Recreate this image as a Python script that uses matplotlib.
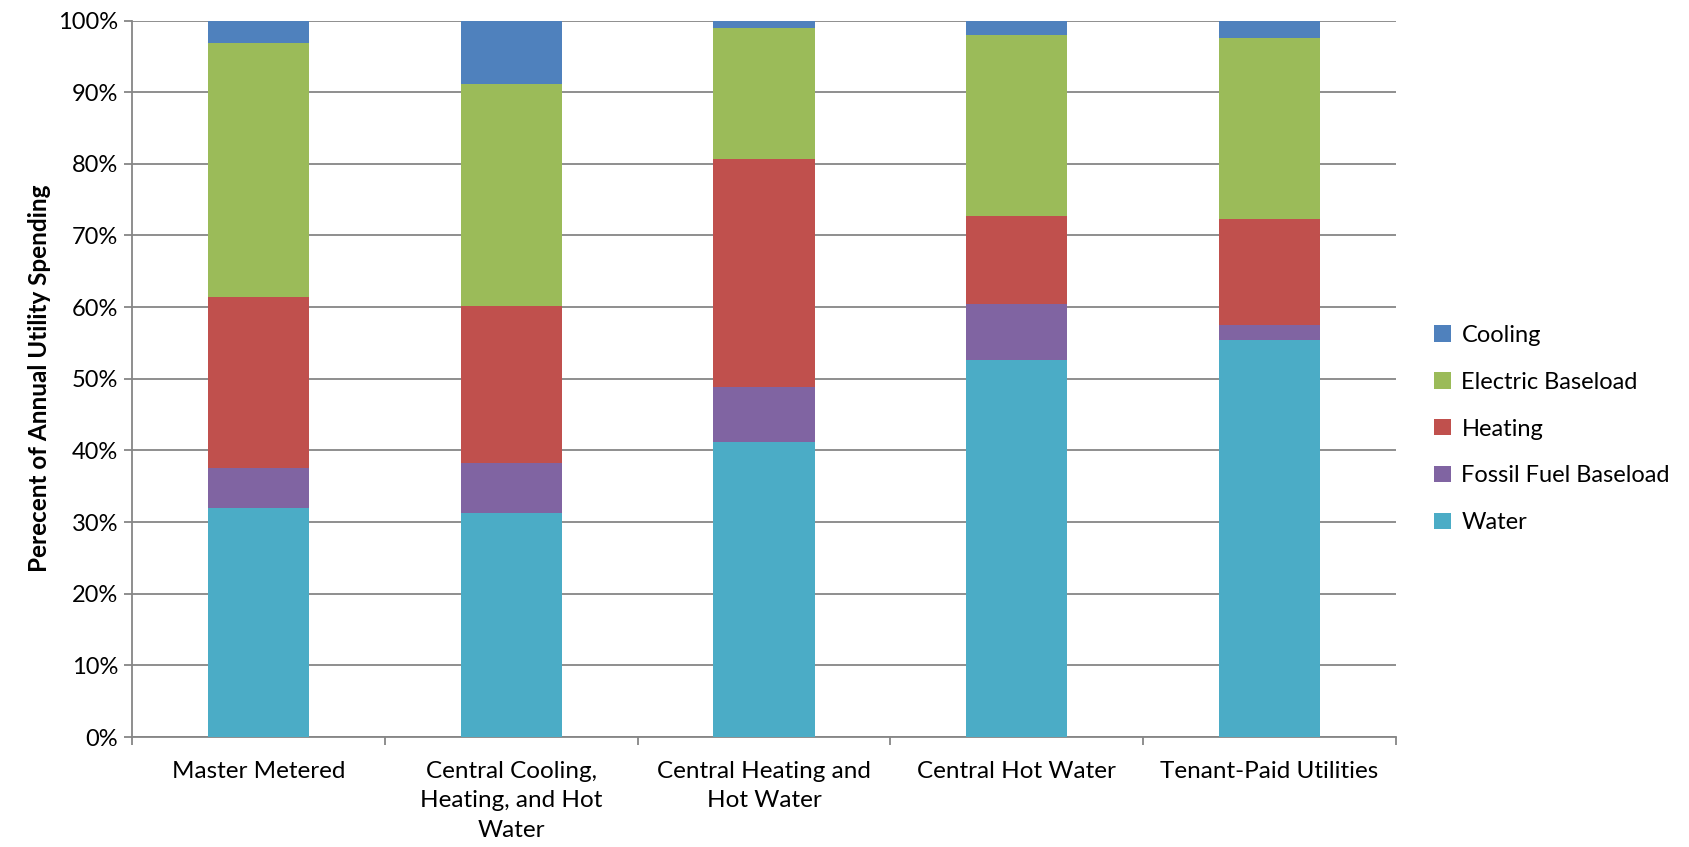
import numpy as np
import matplotlib.pyplot as plt
from matplotlib.ticker import FuncFormatter

categories = ["Master Metered", "Central Cooling,\nHeating, and Hot\nWater",
              "Central Heating and\nHot Water", "Central Hot Water",
              "Tenant-Paid Utilities"]

# shares of annual utility spending (%), bottom to top
water = [31.9, 31.3, 41.2, 52.6, 55.4]
fossil_fuel = [5.6, 6.9, 7.7, 7.9, 2.1]
heating = [23.9, 21.9, 31.8, 12.2, 14.8]
electric = [35.4, 31.0, 18.3, 25.3, 25.2]
cooling = [3.2, 8.9, 1.0, 2.0, 2.5]

series = [("Water", water, "#4BACC6"),
          ("Fossil Fuel Baseload", fossil_fuel, "#8064A2"),
          ("Heating", heating, "#C0504D"),
          ("Electric Baseload", electric, "#9BBB59"),
          ("Cooling", cooling, "#4F81BD")]

plt.rcParams['font.family'] = ['Lato', 'DejaVu Sans']

fig = plt.figure(figsize=(16.9, 8.47), dpi=100)
ax = fig.add_axes([132 / 1690, 1 - 737 / 847, (1396 - 132) / 1690, (737 - 20.5) / 847])

x = np.arange(len(categories))
bottom = np.zeros(len(categories))
handles = []
for name, vals, col in series:
    b = ax.bar(x, vals, width=0.4, bottom=bottom, color=col, label=name, zorder=3)
    handles.append(b)
    bottom += np.array(vals)

grid_col = "#868686"
ax.set_ylim(0, 100)
ax.set_xlim(-0.5, len(categories) - 0.5)
ax.set_yticks(np.arange(0, 101, 10))
ax.yaxis.set_major_formatter(FuncFormatter(lambda v, p: f"{int(v)}%"))
ax.yaxis.grid(True, color=grid_col, linewidth=1.3, zorder=0)
ax.set_axisbelow(True)

# category labels centred on bars, tick marks on boundaries
ax.set_xticks(x)
ax.set_xticklabels(categories, fontsize=17.5, linespacing=1.5, va='top')
ax.tick_params(axis='x', length=0, pad=17)
ax.set_xticks(np.arange(-0.5, len(categories)), minor=True)
ax.tick_params(axis='x', which='minor', length=6, width=1.3, color=grid_col)
ax.tick_params(axis='y', length=6, width=1.3, color=grid_col, labelsize=17, pad=4)

for s in ['top', 'right']:
    ax.spines[s].set_visible(False)
for s in ['left', 'bottom']:
    ax.spines[s].set_color(grid_col)
    ax.spines[s].set_linewidth(1.3)

ax.set_ylabel("Perecent of Annual Utility Spending", fontsize=17.5, fontweight='bold', labelpad=5)

leg = fig.legend(handles[::-1], [s[0] for s in series][::-1], loc='center left',
                 bbox_to_anchor=(1413 / 1690, 1 - 429 / 847), frameon=False,
                 fontsize=17, handlelength=0.7, handleheight=0.7,
                 handletextpad=0.45, labelspacing=1.1)

fig.savefig("out.png", dpi=100)
